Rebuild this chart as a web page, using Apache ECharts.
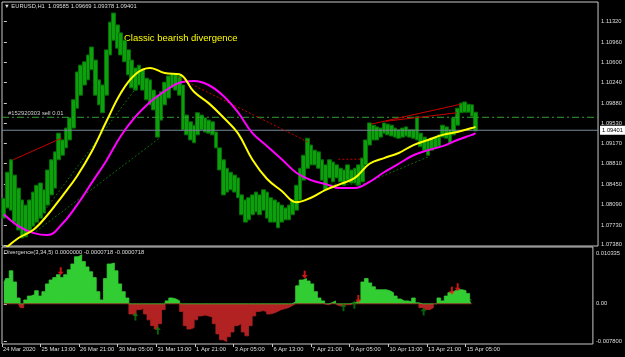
<!DOCTYPE html>
<html><head><meta charset="utf-8">
<script src="https://cdn.jsdelivr.net/npm/echarts@6/dist/echarts.min.js"></script>
<style>html,body{margin:0;padding:0;background:#000;}#c{width:625px;height:357px;}</style>
</head><body><div id="c"></div>
<script>
// ---- data ----
const symbolName = 'EURUSD,H1';
const headerQuote = ['1.09585', '1.09669', '1.09378', '1.09401'];
const indicatorName = 'Divergence(3,34,5) 0.0000000 -0.0000718 -0.0000718';
const annotationText = 'Classic bearish divergence';
const orderLabel = '#152920303 sell 0.01';
const orderPrice = 1.0963;
const lastPrice = 1.09401;

// each slot = 3 hourly bars
const priceHigh = [
1.0820,1.0866,1.0888,1.0861,1.0838,1.0817,1.0808,1.0817,1.0831,1.0843,
1.0847,1.0835,1.0870,1.0888,1.0902,1.0935,1.0923,1.0944,1.0962,1.0994,
1.1043,1.1055,1.1061,1.1073,1.1087,1.1064,1.1029,1.1020,1.1082,1.1131,
1.1147,1.1126,1.1112,1.1099,1.1082,1.1064,1.1050,1.1055,1.1047,1.1032,
1.1029,1.1011,1.1002,1.1008,1.1025,1.1036,1.1039,1.1039,1.1036,1.1020,
1.0967,1.0955,1.0949,1.0971,1.0967,1.0962,1.0958,1.0955,1.0937,1.0909,
1.0888,1.0873,1.0866,1.0861,1.0856,1.0826,1.0817,1.0821,1.0826,1.0831,
1.0826,1.0835,1.0831,1.0821,1.0817,1.0813,1.0808,1.0803,1.0808,1.0817,
1.0843,1.0873,1.0896,1.0926,1.0914,1.0905,1.0902,1.0888,1.0879,1.0888,
1.0884,1.0879,1.0873,1.0870,1.0879,1.0870,1.0873,1.0879,1.0891,1.0923,
1.0953,1.0949,1.0946,1.0944,1.0953,1.0951,1.0949,1.0944,1.0941,1.0944,
1.0946,1.0941,1.0941,1.0964,1.0935,1.0928,1.0923,1.0926,1.0928,1.0932,
1.0949,1.0946,1.0941,1.0962,1.0979,1.0988,1.0990,1.0986,1.0985,1.0972];
const priceLow = [
1.0785,1.0803,1.0799,1.0778,1.0764,1.0750,1.0752,1.0761,1.0771,1.0778,
1.0785,1.0794,1.0808,1.0826,1.0838,1.0888,1.0896,1.0909,1.0923,1.0944,
1.0979,1.1002,1.1020,1.1029,1.1047,1.1002,1.0985,1.0971,1.1002,1.1073,
1.1099,1.1085,1.1073,1.1061,1.1038,1.1015,1.1011,1.1020,1.1011,1.0994,
1.0985,1.0976,1.0928,1.0958,1.0985,1.0997,1.1015,1.1011,1.1002,1.0941,
1.0932,1.0923,1.0918,1.0932,1.0941,1.0937,1.0935,1.0932,1.0909,1.0870,
1.0826,1.0831,1.0835,1.0831,1.0821,1.0791,1.0778,1.0782,1.0791,1.0796,
1.0791,1.0799,1.0785,1.0778,1.0778,1.0768,1.0778,1.0782,1.0782,1.0791,
1.0799,1.0817,1.0852,1.0873,1.0879,1.0879,1.0873,1.0852,1.0835,1.0856,
1.0849,1.0856,1.0849,1.0843,1.0852,1.0847,1.0847,1.0843,1.0849,1.0879,
1.0914,1.0923,1.0923,1.0928,1.0935,1.0932,1.0930,1.0928,1.0926,1.0928,
1.0930,1.0928,1.0926,1.0923,1.0911,1.0905,1.0896,1.0905,1.0909,1.0912,
1.0928,1.0926,1.0918,1.0932,1.0949,1.0971,1.0972,1.0972,1.0965,1.0939];

const maIdx = [0,4,8,12,16,20,24,28,32,36,40,44,48,52,56,60,64,68,72,76,80,84,88,92,96,100,104,108,112,116,120,124,128,129];
const maFast = [1.0729,1.0750,1.0764,1.0791,1.0824,1.0859,1.0902,1.0955,1.1006,1.1039,1.1050,1.1041,1.1039,1.1008,1.0988,1.0963,1.0935,1.0888,1.0854,1.0833,1.0813,1.0821,1.0835,1.0845,1.0856,1.0881,1.0891,1.0900,1.0914,1.0923,1.0932,1.0937,1.0944,1.0946];
const maSlow = [1.0792,1.0771,1.0759,1.0755,1.0775,1.0808,1.0847,1.0886,1.0930,1.0964,1.0990,1.1009,1.1024,1.1027,1.1020,1.1001,1.0972,1.0935,1.0912,1.0889,1.0865,1.0852,1.0845,1.0838,1.0838,1.0849,1.0866,1.0881,1.0896,1.0905,1.0912,1.0923,1.0932,1.0935];

// trend lines: [slotFrom, priceFrom, slotTo, priceTo]
const redSolidLines = [[2.57,1.0888,15.74,1.0926],[100.5,1.0951,124.9,1.0986],[104.5,1.0956,123.9,1.0971]];
const redDotLines = [[47.4,1.1034,83.3,1.0919],[91.5,1.0889,98.0,1.0889]];
const greenDotLines = [[5.8,1.0752,36.2,1.1015],[7.9,1.0757,42.5,1.0926],[89.3,1.0845,98.3,1.0845],[98.3,1.0845,116.0,1.0893]];

const divergence = [
0.0043,0.0052,0.0068,0.0045,0.0012,-0.0008,0.0008,0.0016,0.0019,0.0027,
0.0016,0.0025,0.0041,0.0049,0.0054,0.0060,0.0054,0.0060,0.0070,0.0082,
0.0097,0.0101,0.0087,0.0076,0.0066,0.0054,0.0025,0.0008,0.0052,0.0082,
0.0084,0.0068,0.0041,0.0025,0.0012,-0.0021,-0.0025,-0.0012,-0.0010,-0.0021,
-0.0033,-0.0045,-0.0052,-0.0041,-0.0012,0.0006,0.0012,0.0010,0.0006,-0.0016,
-0.0045,-0.0052,-0.0049,-0.0033,-0.0025,-0.0023,-0.0025,-0.0027,-0.0041,-0.0062,
-0.0074,-0.0078,-0.0068,-0.0058,-0.0045,-0.0041,-0.0058,-0.0066,-0.0045,-0.0025,
-0.0016,-0.0014,-0.0016,-0.0021,-0.0019,-0.0016,-0.0012,-0.0010,-0.0008,-0.0004,
0.0004,0.0037,0.0049,0.0052,0.0047,0.0041,0.0025,0.0012,0.0006,-0.0002,
0.0002,0.0006,-0.0004,-0.0004,-0.0002,-0.0002,0.0002,0.0004,0.0008,0.0045,
0.0052,0.0043,0.0035,0.0029,0.0029,0.0029,0.0027,0.0023,0.0016,0.0010,
0.0006,0.0006,0.0004,0.0012,0.0002,-0.0008,-0.0012,-0.0012,-0.0008,0,
0.0012,0.0006,0.0016,0.0023,0.0027,0.0029,0.0029,0.0027,0.0021,0.0008];
const bearArrows = [[15.7,0.0067],[83.0,0.0060],[97.8,0.0010],[123.6,0.0027],[125.2,0.0034]];
const bullArrows = [[36.3,-0.0026],[42.5,-0.0055],[93.7,-0.0007],[96.7,-0.0002],[115.8,-0.0016]];

const priceTicks = [1.1132,1.1096,1.1060,1.1024,1.0988,1.0953,1.0917,1.0881,1.0845,1.0809,1.0773,1.0738];
const indTicks = [0.010335, 0, -0.0078];
const indTickLabels = ['0.010335', '0.00', '-0.007800'];
const timeLabels = ['24 Mar 2020','25 Mar 13:00','26 Mar 21:00','30 Mar 05:00','31 Mar 13:00','1 Apr 21:00','3 Apr 05:00','6 Apr 13:00','7 Apr 21:00','9 Apr 05:00','10 Apr 13:00','13 Apr 21:00','15 Apr 05:00'];

// ---- layout / scale constants ----
const N_SLOTS = 163, BARS_PER_SLOT = 3, BARS_PER_LABEL = 32, LABEL_SHIFT = -0.58;
const timeTickU = timeLabels.map((_, k) => Math.max(-0.5, k * BARS_PER_LABEL / BARS_PER_SLOT + LABEL_SHIFT));
const FONT = 'Liberation Sans';
const FG = '#dedede';
const GREEN_H = '#32cd32', RED_H = '#b22222';
function nearest(vals, labels, v) { let b = 0; for (let i = 1; i < vals.length; i++) if (Math.abs(vals[i] - v) < Math.abs(vals[b] - v)) b = i; return labels[b]; }

const cats = Array.from({length: N_SLOTS}, (_, i) => String(i));
const candleData = priceLow.map((lo, i) => [lo, priceHigh[i], lo, priceHigh[i]]);
const X0 = -0.5, X1 = N_SLOTS - 0.5;
const histPos = divergence.map((v, i) => [i, Math.max(v, 0)]);
const histNeg = divergence.map((v, i) => [i, Math.min(v, 0)]);

function lineSeries(arr, color, type, width) {
  return arr.map(l => ({
    type: 'line', xAxisIndex: 1, yAxisIndex: 0, symbol: 'none', silent: true, z: 4,
    data: [[l[0], l[1]], [l[2], l[3]]],
    lineStyle: {color: color, type: type, width: width}
  }));
}
function histSeries(data, color) {
  return {type: 'line', xAxisIndex: 3, yAxisIndex: 1, symbol: 'none', step: 'middle', silent: true, z: 2,
    data: data, lineStyle: {width: 0.8, color: color}, areaStyle: {color: color, opacity: 1, origin: 0}};
}

const chart = echarts.init(document.getElementById('c'), null, {renderer: 'canvas'});
chart.setOption({
  animation: false,
  backgroundColor: '#000',
  textStyle: {fontFamily: FONT},
  grid: [
    {left: 2, right: 24, top: 2, height: 244, show: true, borderColor: '#c8c8c8', borderWidth: 1, backgroundColor: 'transparent'},
    {left: 2, right: 24, top: 247, height: 97, show: true, borderColor: '#c8c8c8', borderWidth: 1, backgroundColor: 'transparent'}
  ],
  xAxis: [
    {type: 'category', gridIndex: 0, data: cats, show: false, boundaryGap: true, position: 'bottom'},
    {type: 'value', gridIndex: 0, min: X0, max: X1, show: false, position: 'top'},
    {type: 'category', gridIndex: 1, data: cats, show: false, boundaryGap: true, position: 'top'},
    {type: 'value', gridIndex: 1, min: X0, max: X1, show: true, position: 'bottom',
      axisLine: {show: false}, splitLine: {show: false},
      axisTick: {show: true, customValues: timeTickU, length: 3, lineStyle: {color: '#c8c8c8'}},
      axisLabel: {customValues: timeTickU, color: FG, fontSize: 5.8, fontFamily: FONT, margin: 2, align: 'left', padding: [0,0,0,1],
        formatter: v => nearest(timeTickU, timeLabels, v)}}
  ],
  yAxis: [
    {type: 'value', gridIndex: 0, position: 'right', min: 1.07358, max: 1.11665, splitLine: {show: false},
      axisLine: {show: false},
      axisTick: {show: true, customValues: priceTicks, length: 3, lineStyle: {color: '#c8c8c8'}},
      axisLabel: {customValues: priceTicks, color: FG, fontSize: 5.8, fontFamily: FONT, margin: 3, formatter: v => v.toFixed(5)}},
    {type: 'value', gridIndex: 1, position: 'right', min: -0.00828, max: 0.0117, splitLine: {show: false},
      axisLine: {show: false},
      axisTick: {show: true, customValues: indTicks, length: 3, lineStyle: {color: '#c8c8c8'}},
      axisLabel: {customValues: indTicks, color: FG, fontSize: 5.8, fontFamily: FONT, margin: 3,
        formatter: v => nearest(indTicks, indTickLabels, v)}}
  ],
  graphic: [
    {type: 'text', left: 4, top: 3, style: {text: '\u25BC ' + symbolName + '  ' + headerQuote.join(' '), fill: FG, font: '5.8px ' + FONT}},
    {type: 'text', left: 124, top: 33, style: {text: annotationText, fill: '#ffff00', font: '9.5px ' + FONT}},
    {type: 'text', left: 4, top: 249, style: {text: indicatorName, fill: FG, font: '5.8px ' + FONT}}
  ],
  series: [
    {type: 'candlestick', xAxisIndex: 0, yAxisIndex: 0, data: candleData, barWidth: 4.2, z: 2,
      itemStyle: {color: '#0ca00c', borderColor: '#066f06', borderWidth: 1, color0: '#0ca00c', borderColor0: '#066f06'}},
    {type: 'line', xAxisIndex: 1, yAxisIndex: 0, symbol: 'none', silent: true, z: 3,
      data: [[X0, orderPrice], [X1, orderPrice]], lineStyle: {color: '#2fa32f', type: [7, 3, 2, 3], width: 1},
      markPoint: {symbol: 'rect', symbolSize: 0.1, silent: true,
        data: [{coord: [X0, orderPrice], label: {show: true, position: 'right', offset: [1, -4], formatter: orderLabel, color: '#cfcfcf', fontSize: 5.8, fontFamily: FONT}}]}},
    {type: 'line', xAxisIndex: 1, yAxisIndex: 0, symbol: 'none', silent: true, z: 3,
      data: [[X0, lastPrice], [X1, lastPrice]], lineStyle: {color: '#778899', type: 'solid', width: 1},
      endLabel: {show: true, formatter: lastPrice.toFixed(5), color: '#000', backgroundColor: '#ffffff', fontSize: 5.8, fontFamily: FONT, padding: [2, 2, 1, 2], distance: 2}},
    {type: 'line', xAxisIndex: 1, yAxisIndex: 0, symbol: 'none', smooth: 0.4, z: 5,
      data: maIdx.map((u, k) => [u, maSlow[k]]), lineStyle: {color: '#ff00ff', width: 2}},
    {type: 'line', xAxisIndex: 1, yAxisIndex: 0, symbol: 'none', smooth: 0.4, z: 6,
      data: maIdx.map((u, k) => [u, maFast[k]]), lineStyle: {color: '#ffff00', width: 2}},
    ...lineSeries(redSolidLines, '#c80000', 'solid', 1),
    ...lineSeries(redDotLines, '#c80000', [2, 2], 1),
    ...lineSeries(greenDotLines, '#0d6a0d', [2, 2], 1),
    histSeries(histPos, GREEN_H),
    histSeries(histNeg, RED_H),
    {type: 'scatter', xAxisIndex: 3, yAxisIndex: 1, z: 6, data: bearArrows, symbolSize: [6, 8],
      symbol: 'path://M2,0 L4,0 L4,5 L6,5 L3,9 L0,5 L2,5 Z', itemStyle: {color: '#ff1a1a'}},
    {type: 'scatter', xAxisIndex: 3, yAxisIndex: 1, z: 6, data: bullArrows, symbolSize: [6, 8],
      symbol: 'path://M3,0 L6,4 L4,4 L4,9 L2,9 L2,4 L0,4 Z', itemStyle: {color: '#0b7a0b'}}
  ]
});
</script>
</body></html>
